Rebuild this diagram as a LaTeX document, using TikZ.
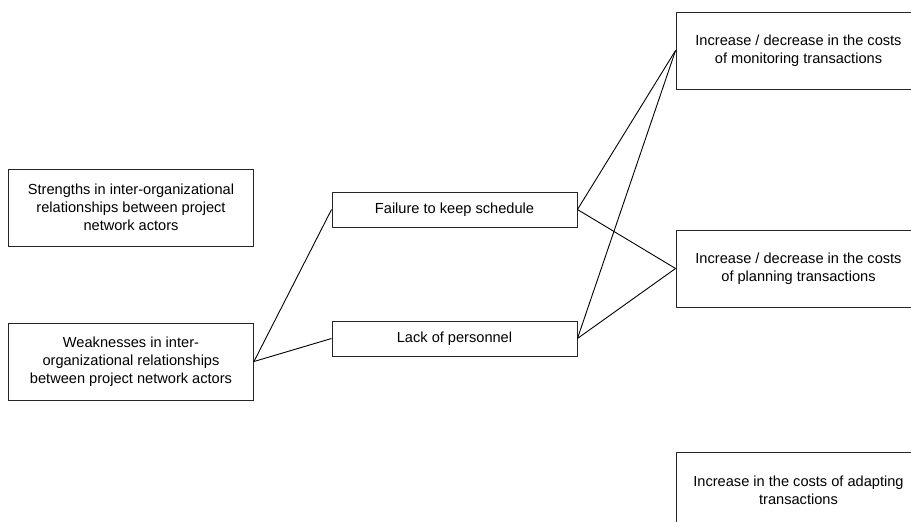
\documentclass[tikz,border=0pt]{standalone}
\usepackage{fontspec}
\setmainfont{Liberation Sans}
\begin{document}
\begin{tikzpicture}[x=1pt,y=-1pt,
  box/.style={draw=black!85,line width=0.9pt,rectangle,inner sep=0pt,
    minimum width=245pt,minimum height=77pt,align=center,
    font=\fontsize{14.6}{18}\selectfont},
  slim/.style={box,minimum height=35pt},
  link/.style={draw=black,line width=0.9pt}]
  \useasboundingbox (0,0) rectangle (911,522);
  \clip (0,0) rectangle (911,522);
  % causes
  \node[box] (strong) at (131,207.5) {Strengths in inter-organizational\\relationships between project\\network actors};
  \node[box] (weak) at (131,361.5) {Weaknesses in inter-\\organizational relationships\\between project network actors};
  % intermediate effects
  \node[slim] (fail) at (454.5,209.5) {Failure to keep schedule};
  \node[slim] (lack) at (454.5,338.5) {Lack of personnel};
  % transaction costs
  \node[box] (mon) at (798.5,50.5) {Increase / decrease in the costs\\of monitoring transactions};
  \node[box] (plan) at (798.5,268.5) {Increase / decrease in the costs\\of planning transactions};
  \node[box] (adapt) at (798.5,490.5) {Increase in the costs of adapting\\transactions};
  % relations
  \draw[link] (weak.east) -- (fail.west);
  \draw[link] (weak.east) -- (lack.west);
  \draw[link] (fail.east) -- (mon.west);
  \draw[link] (fail.east) -- (plan.west);
  \draw[link] (lack.east) -- (mon.west);
  \draw[link] (lack.east) -- (plan.west);
\end{tikzpicture}
\end{document}
